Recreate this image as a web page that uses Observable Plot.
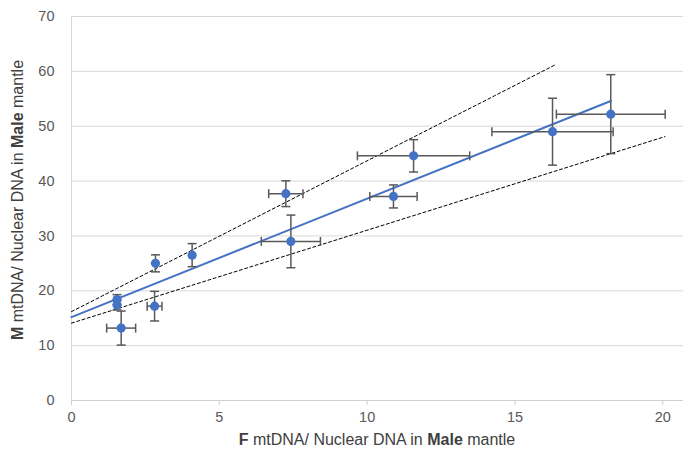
<!DOCTYPE html>
<html>
<head>
<meta charset="utf-8">
<script src="https://cdn.jsdelivr.net/npm/d3@7"></script>
<script src="https://cdn.jsdelivr.net/npm/@observablehq/plot@0.6"></script>
<style>
  html, body { margin: 0; padding: 0; background: #fff; }
  #chart { width: 683px; height: 452px; }
</style>
</head>
<body>
<div id="chart"></div>
<script>
// ---- Data ----
const fX    = [1.68, 1.54, 1.54, 2.84, 2.81, 4.08, 7.42, 7.25, 10.89, 11.57, 16.27, 18.24];
const mY    = [13.2, 18.4, 17.4, 25.0, 17.2, 26.5, 29.0, 37.7, 37.2, 44.6, 49.0, 52.2];
const fErr  = [0.49, 0.0, 0.0, 0.0, 0.25, 0.0, 1.0, 0.58, 0.8, 1.9, 2.05, 1.84];
const mErr  = [3.1, 0.9, 0.9, 1.55, 2.7, 2.1, 4.8, 2.35, 2.1, 2.95, 6.1, 7.2];

// Lines: [x start, x end], [y start, y end]
const fitX   = [0, 18.24];
const fitY   = [15.2, 54.6];
const upperX = [0, 16.4];
const upperY = [16.2, 61.3];
const lowerX = [0, 20.07];
const lowerY = [14.1, 48.1];

const xTicks = [0, 5, 10, 15, 20];
const yTicks = [0, 10, 20, 30, 40, 50, 60, 70];

// ---- Build tables ----
const pts = fX.map((x, i) => ({x, y: mY[i], ex: fErr[i], ey: mErr[i]}));
const xbars = pts.filter(d => d.ex > 0);
const ybars = pts.filter(d => d.ey > 0);
const line = (xs, ys) => xs.map((x, i) => ({x, y: ys[i]}));

const hCap = {draw(ctx, size) { const r = Math.sqrt(size / Math.PI); ctx.moveTo(-r, 0); ctx.lineTo(r, 0); }};
const vCap = {draw(ctx, size) { const r = Math.sqrt(size / Math.PI); ctx.moveTo(0, -r); ctx.lineTo(0, r); }};

const blue = "#4472C4";
const barColor = "#595959";

const chart = Plot.plot({
  width: 683,
  height: 452,
  marginLeft: 71,
  marginRight: 0,
  marginTop: 16,
  marginBottom: 52,
  style: {fontFamily: "'Liberation Sans', Arial, sans-serif", fontSize: "14.5px", color: "#595959", background: "#fff"},
  x: {domain: [0, 20.7], label: null},
  y: {domain: [0, 70], label: null},
  marks: [
    Plot.gridY(yTicks, {stroke: "#d9d9d9", strokeOpacity: 1, strokeWidth: 1}),
    Plot.ruleX([0], {stroke: "#d9d9d9", strokeWidth: 1}),
    Plot.ruleY([0], {stroke: "#d0d0d0", strokeWidth: 1}),
    Plot.axisX({ticks: xTicks, tickSize: 5, tickPadding: 6, stroke: "#d0d0d0", fill: "#595959", label: null, fontSize: 14.5}),
    Plot.axisY({ticks: yTicks, tickSize: 0, tickPadding: 17, fill: "#595959", label: null, fontSize: 14.5}),
    Plot.line(line(lowerX, lowerY), {x: "x", y: "y", stroke: "#000", strokeWidth: 1, strokeDasharray: "3,2.5"}),
    Plot.line(line(upperX, upperY), {x: "x", y: "y", stroke: "#000", strokeWidth: 1, strokeDasharray: "3,2.5"}),
    Plot.line(line(fitX, fitY), {x: "x", y: "y", stroke: blue, strokeWidth: 2}),
    // error bars
    Plot.link(xbars, {x1: d => d.x - d.ex, x2: d => d.x + d.ex, y1: "y", y2: "y", stroke: barColor, strokeWidth: 1.5}),
    Plot.link(ybars, {x1: "x", x2: "x", y1: d => d.y - d.ey, y2: d => d.y + d.ey, stroke: barColor, strokeWidth: 1.5}),
    Plot.dot(xbars, {x: d => d.x - d.ex, y: "y", symbol: vCap, r: 4.5, stroke: barColor, strokeWidth: 1.5, fill: "none"}),
    Plot.dot(xbars, {x: d => d.x + d.ex, y: "y", symbol: vCap, r: 4.5, stroke: barColor, strokeWidth: 1.5, fill: "none"}),
    Plot.dot(ybars, {x: "x", y: d => d.y - d.ey, symbol: hCap, r: 4.5, stroke: barColor, strokeWidth: 1.5, fill: "none"}),
    Plot.dot(ybars, {x: "x", y: d => d.y + d.ey, symbol: hCap, r: 4.5, stroke: barColor, strokeWidth: 1.5, fill: "none"}),
    Plot.dot(pts, {x: "x", y: "y", r: 4.6, fill: blue, stroke: "none"})
  ]
});

// Axis titles with partial bold
const svg = d3.select(chart);
const xt = svg.append("text")
  .attr("x", 377).attr("y", 445)
  .attr("text-anchor", "middle")
  .attr("fill", "#404040")
  .style("font-size", "16px")
  .style("font-family", "'Liberation Sans', Arial, sans-serif");
xt.append("tspan").attr("font-weight", "bold").text("F");
xt.append("tspan").text(" mtDNA/ Nuclear DNA in ");
xt.append("tspan").attr("font-weight", "bold").text("Male");
xt.append("tspan").text(" mantle");

const yt = svg.append("text")
  .attr("transform", "translate(23,200) rotate(-90)")
  .attr("text-anchor", "middle")
  .attr("fill", "#404040")
  .style("font-size", "16px")
  .style("font-family", "'Liberation Sans', Arial, sans-serif");
yt.append("tspan").attr("font-weight", "bold").text("M");
yt.append("tspan").text(" mtDNA/ Nuclear DNA in ");
yt.append("tspan").attr("font-weight", "bold").text("Male");
yt.append("tspan").text(" mantle");

document.getElementById("chart").appendChild(chart);
</script>
</body>
</html>
